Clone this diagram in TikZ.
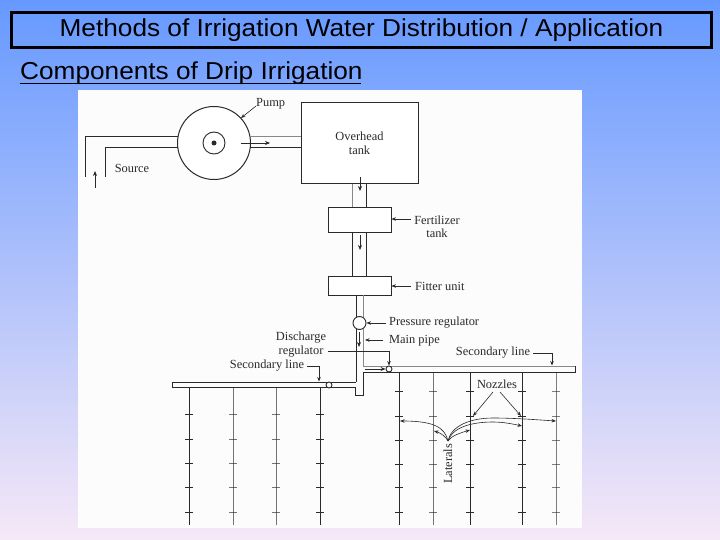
\documentclass[tikz,border=0pt]{standalone}
\usepackage{fontspec}
\setmainfont[FakeStretch=1.07]{Liberation Sans}
\newfontfamily\serifdiag{Liberation Serif}
\usetikzlibrary{arrows.meta,calc}
\definecolor{inkc}{HTML}{2A2A2A}
\definecolor{pipec}{HTML}{555555}
\tikzset{
 x=1pt,y=-1pt,
 pipe/.style={draw=inkc,line width=1pt},
 lightpipe/.style={draw=pipec!70,line width=1pt},
 ptr/.style={draw=inkc,line width=0.6pt,-{Stealth[length=4.5pt,width=3.5pt]}},
 flow/.style={draw=inkc,line width=0.7pt,-{Stealth[length=5pt,width=4pt]}},
 lab/.style={font=\serifdiag\fontsize{12.4}{13.5}\selectfont,text=inkc,inner sep=0pt,align=center},
 unit/.style={draw=inkc,line width=0.9pt,fill=white,inner sep=0pt,minimum width=63pt},
 valve/.style={circle,draw=inkc,line width=0.9pt,fill=white,inner sep=0pt},
 lateral/.style={draw=inkc,line width=0.9pt},
 nozzle/.style={draw=inkc,line width=0.9pt},
}
\begin{document}
\begin{tikzpicture}
\useasboundingbox (0,0) rectangle (720,540);
\shade[shading=axis,top color={rgb,255:red,102;green,153;blue,255},bottom color={rgb,255:red,246;green,232;blue,247}] (0,0) rectangle (720,540);
% title
\node[draw=black,line width=3pt,minimum width=700pt,minimum height=35pt,inner sep=0pt,anchor=center,font=\fontsize{24.5}{26}\selectfont] (title) at (361.5,30) {Methods of Irrigation Water Distribution / Application};
\node[anchor=base west,inner sep=0pt,font=\fontsize{24.5}{26}\selectfont] (head) at (20,80) {Components of Drip Irrigation};
\coordinate (ulA) at (20,83.5); \coordinate (ulB) at (361,83.5);
\draw[line width=1.3pt] (ulA) -- (ulB);
% photo
\fill[white!99!black] (78,90) rectangle (582,528);
% pump + source
\node[circle,draw=inkc,line width=1pt,minimum size=73pt,inner sep=0pt,fill=white] (pump) at (214,143) {};
\node[circle,draw=inkc,line width=0.9pt,minimum size=22pt,inner sep=0pt] (impeller) at (pump.center) {};
\node[circle,fill=inkc,minimum size=5pt,inner sep=0pt] (shaft) at (pump.center) {};
\coordinate (srcA) at (85,177); \coordinate (srcB) at (85,137); \coordinate (srcC) at (177.5,137);
\coordinate (srcD) at (105,177); \coordinate (srcE) at (105,148); \coordinate (srcF) at (178,148);
\draw[pipe] (srcA) -- (srcB) -- (srcC);
\draw[pipe] (srcD) -- (srcE) -- (srcF);
\coordinate (flowA) at (95,188); \coordinate (flowB) at (95,171);
\draw[flow] (flowA) -- (flowB);
\node[lab] (source) at (132,168) {Source};
\node[lab,anchor=west] (pumplab) at (256,104) {Pump};
\coordinate (pumpL) at (256,106); \coordinate (pumpT) at (241,118);
\draw[ptr] (pumpL) -- (pumpT);
% tank
\node[draw=inkc,line width=1pt,fill=white,minimum width=117pt,minimum height=81pt,inner sep=0pt,lab] (tank) at (359.5,143.5) {Overhead\\[1pt]tank};
\coordinate (outA) at (250,137); \coordinate (outB) at (301,137);
\coordinate (outC) at (250,148); \coordinate (outD) at (301,148);
\draw[lightpipe] (outA) -- (outB);
\draw[pipe] (outC) -- (outD);
\coordinate (arA) at (241,143); \coordinate (arB) at (270,143);
\draw[flow] (arA) -- (arB);
% vertical pipes
\node[unit,minimum height=25pt] (fert) at (359.5,219.5) {};
\node[unit,minimum height=19pt] (filt) at (359.5,285.5) {};
\draw[lightpipe] (352,184) -- (352,207);
\draw[pipe] (366,184) -- (366,207);
\draw[pipe] (352,232) -- (352,276);
\draw[pipe] (366,232) -- (366,276);
\coordinate (a1) at (360,177); \coordinate (a2) at (360,191);
\coordinate (a3) at (360,235); \coordinate (a4) at (360,250);
\draw[flow] (a1) -- (a2);
\draw[flow] (a3) -- (a4);
\node[lab] (fertlab) at (437,220) {Fertilizer};
\node[lab] (fertlabb) at (437,233) {tank};
\node[lab,anchor=west] (filtlab) at (415,286) {Fitter unit};
\coordinate (fertL) at (411,219); \coordinate (filtL) at (411,286);
\draw[ptr] (fertL) -- (fert.east |- fertL);
\draw[ptr] (filtL) -- (filt.east |- filtL);
% main pipe
\coordinate (mL0) at (356,295); \coordinate (mL1) at (356,382);
\coordinate (mR0) at (363,295); \coordinate (mR1) at (363,366);
\coordinate (tL) at (355.5,387); \coordinate (tLb) at (355.5,395); \coordinate (tRb) at (363.5,395); \coordinate (tR) at (363.5,372);
\draw[pipe] (mL0) -- (mL1);
\draw[lightpipe] (mR0) -- (mR1);
\draw[pipe] (tL) -- (tLb) -- (tRb) -- (tR);
\node[valve,minimum size=13pt] (preg) at (359.5,323) {};
\coordinate (a5) at (359,332); \coordinate (a6) at (359,347);
\draw[flow] (a5) -- (a6);
\node[lab,anchor=west] (preglab) at (389,323) {Pressure regulator};
\node[lab,anchor=west] (mainlab) at (389,341) {Main pipe};
\coordinate (pregL) at (386,323); \coordinate (mainL) at (383,340); \coordinate (mainT) at (365,340);
\draw[ptr] (pregL) -- (preg.east);
\draw[ptr] (mainL) -- (mainT);
% secondary lines
\coordinate (sR1) at (363,366); \coordinate (sR2) at (575,366); \coordinate (sR3) at (575,372); \coordinate (sR4) at (363,372);
\draw[lightpipe] (sR1) -- (sR2);
\draw[pipe] (sR2) -- (sR3) -- (sR4);
\coordinate (sL1) at (355.5,382); \coordinate (sL2) at (172,382); \coordinate (sL3) at (172,387.5); \coordinate (sL4) at (355.5,387.5);
\draw[pipe] (sL1) -- (sL2) -- (sL3) -- (sL4);
\node[valve,minimum size=6pt] (dreg) at (389,369) {};
\node[valve,minimum size=6pt] (lreg) at (329,385) {};
\coordinate (a7) at (365,369);
\draw[flow] (a7) -- (dreg.west);
\node[lab] (dlab) at (301,344.5) {Discharge\\[-0.2pt]regulator};
\coordinate (dk) at (389,351);
\draw[ptr] (dlab.east |- dk) ++(2,0) -- (dk) -- (dreg.north);
\node[lab] (sllab) at (267,366) {Secondary line};
\coordinate (slk) at (319,366); \coordinate (slt) at (319,381.5);
\draw[ptr] (sllab.east) ++(3,0) -- (slk) -- (slt);
\node[lab] (srlab) at (493,353) {Secondary line};
\coordinate (srk) at (552,353); \coordinate (srt) at (552,365.5);
\draw[ptr] (srlab.east) ++(3,0) -- (srk) -- (srt);
% laterals
\foreach \xx/\op in {189/1,233/.65,276/.65,320/1}{
 \draw[lateral,opacity=\op] (\xx,388) -- (\xx,525);
 \foreach \yy in {414,439,463,487,512}{\draw[nozzle,opacity=\op] (\xx-4,\yy) -- (\xx+4,\yy);}
}
\foreach \xx/\op in {399/1,433/.65,470/1,522/1,556/.6}{
 \draw[lateral,opacity=\op] (\xx,372.5) -- (\xx,525);
 \foreach \yy in {391,416,440,464,487,512}{\draw[nozzle,opacity=\op] (\xx-4,\yy) -- (\xx+4,\yy);}
}
% nozzles
\node[lab] (nozlab) at (497,384) {Nozzles};
\coordinate (nz1) at (473,416); \coordinate (nz2) at (521,416);
\draw[ptr] (493,392) -- (nz1);
\draw[ptr] (500,392) -- (nz2);
% laterals label
\node[lab,rotate=90] (latlab) at (448,464) {Laterals};
\coordinate (root) at (448,441);
\coordinate (t1) at (400,421); \coordinate (t2) at (434,431); \coordinate (t3) at (470,430); \coordinate (t4) at (522,426); \coordinate (t5) at (556,421);
\coordinate (m4) at (493,422); \coordinate (m5) at (493,418);
\draw[ptr] (root) .. controls (445,428) and (435,421) .. (t1);
\draw[ptr] (root) .. controls (446,437) and (441,433) .. (t2);
\draw[ptr] (root) .. controls (451,436) and (460,433) .. (t3);
\draw[ptr] (root) .. controls (452,428) and (470,422) .. (m4) .. controls (503,422) and (513,424) .. (t4);
\draw[ptr] (root) .. controls (451,426) and (470,418) .. (m5) .. controls (515,418) and (540,420) .. (t5);
\end{tikzpicture}
\end{document}
